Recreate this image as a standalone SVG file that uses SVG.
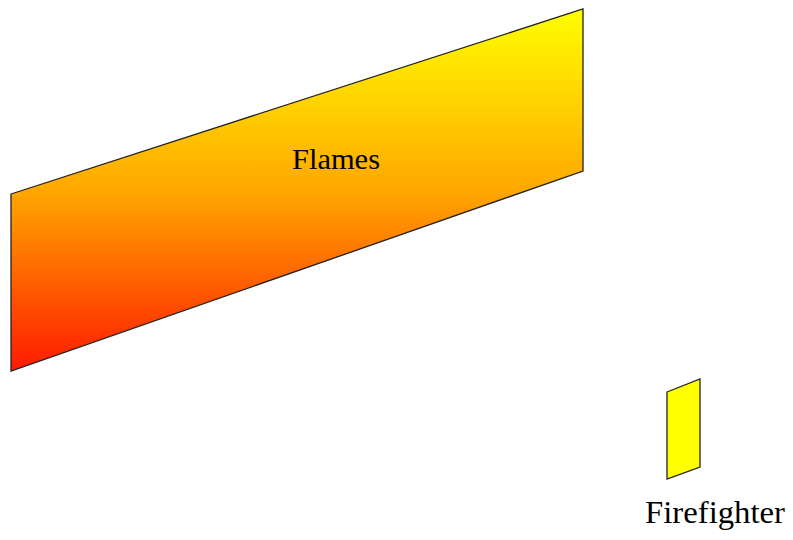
<svg xmlns="http://www.w3.org/2000/svg" width="793" height="540" viewBox="0 0 793 540">
  <defs>
    <linearGradient id="flameGrad" gradientUnits="userSpaceOnUse" x1="0" y1="9" x2="0" y2="371">
      <stop offset="0" stop-color="#FFFF00"/>
      <stop offset="0.5" stop-color="#FFA800"/>
      <stop offset="1" stop-color="#FF1A00"/>
    </linearGradient>
    <style>
      .shape { stroke: #222222; stroke-width: 1.3; stroke-linejoin: miter; }
      .label { font-family: "Liberation Serif", "Times New Roman", serif; fill: #000; }
    </style>
  </defs>
  <rect x="0" y="0" width="793" height="540" fill="#FFFFFF"/>
  <g id="flames">
    <polygon class="shape" points="11,194 583,9 583,171 11,371" fill="url(#flameGrad)"/>
    <text class="label" x="336" y="168.5" font-size="30" text-anchor="middle" textLength="88" lengthAdjust="spacingAndGlyphs">Flames</text>
  </g>
  <g id="firefighter">
    <polygon class="shape" points="667,392 700,379 700,467 667,479" fill="#FFFF00"/>
    <text class="label" x="715" y="523" font-size="31" text-anchor="middle" textLength="140" lengthAdjust="spacingAndGlyphs">Firefighter</text>
  </g>
  <g id="connectors"/>
</svg>
